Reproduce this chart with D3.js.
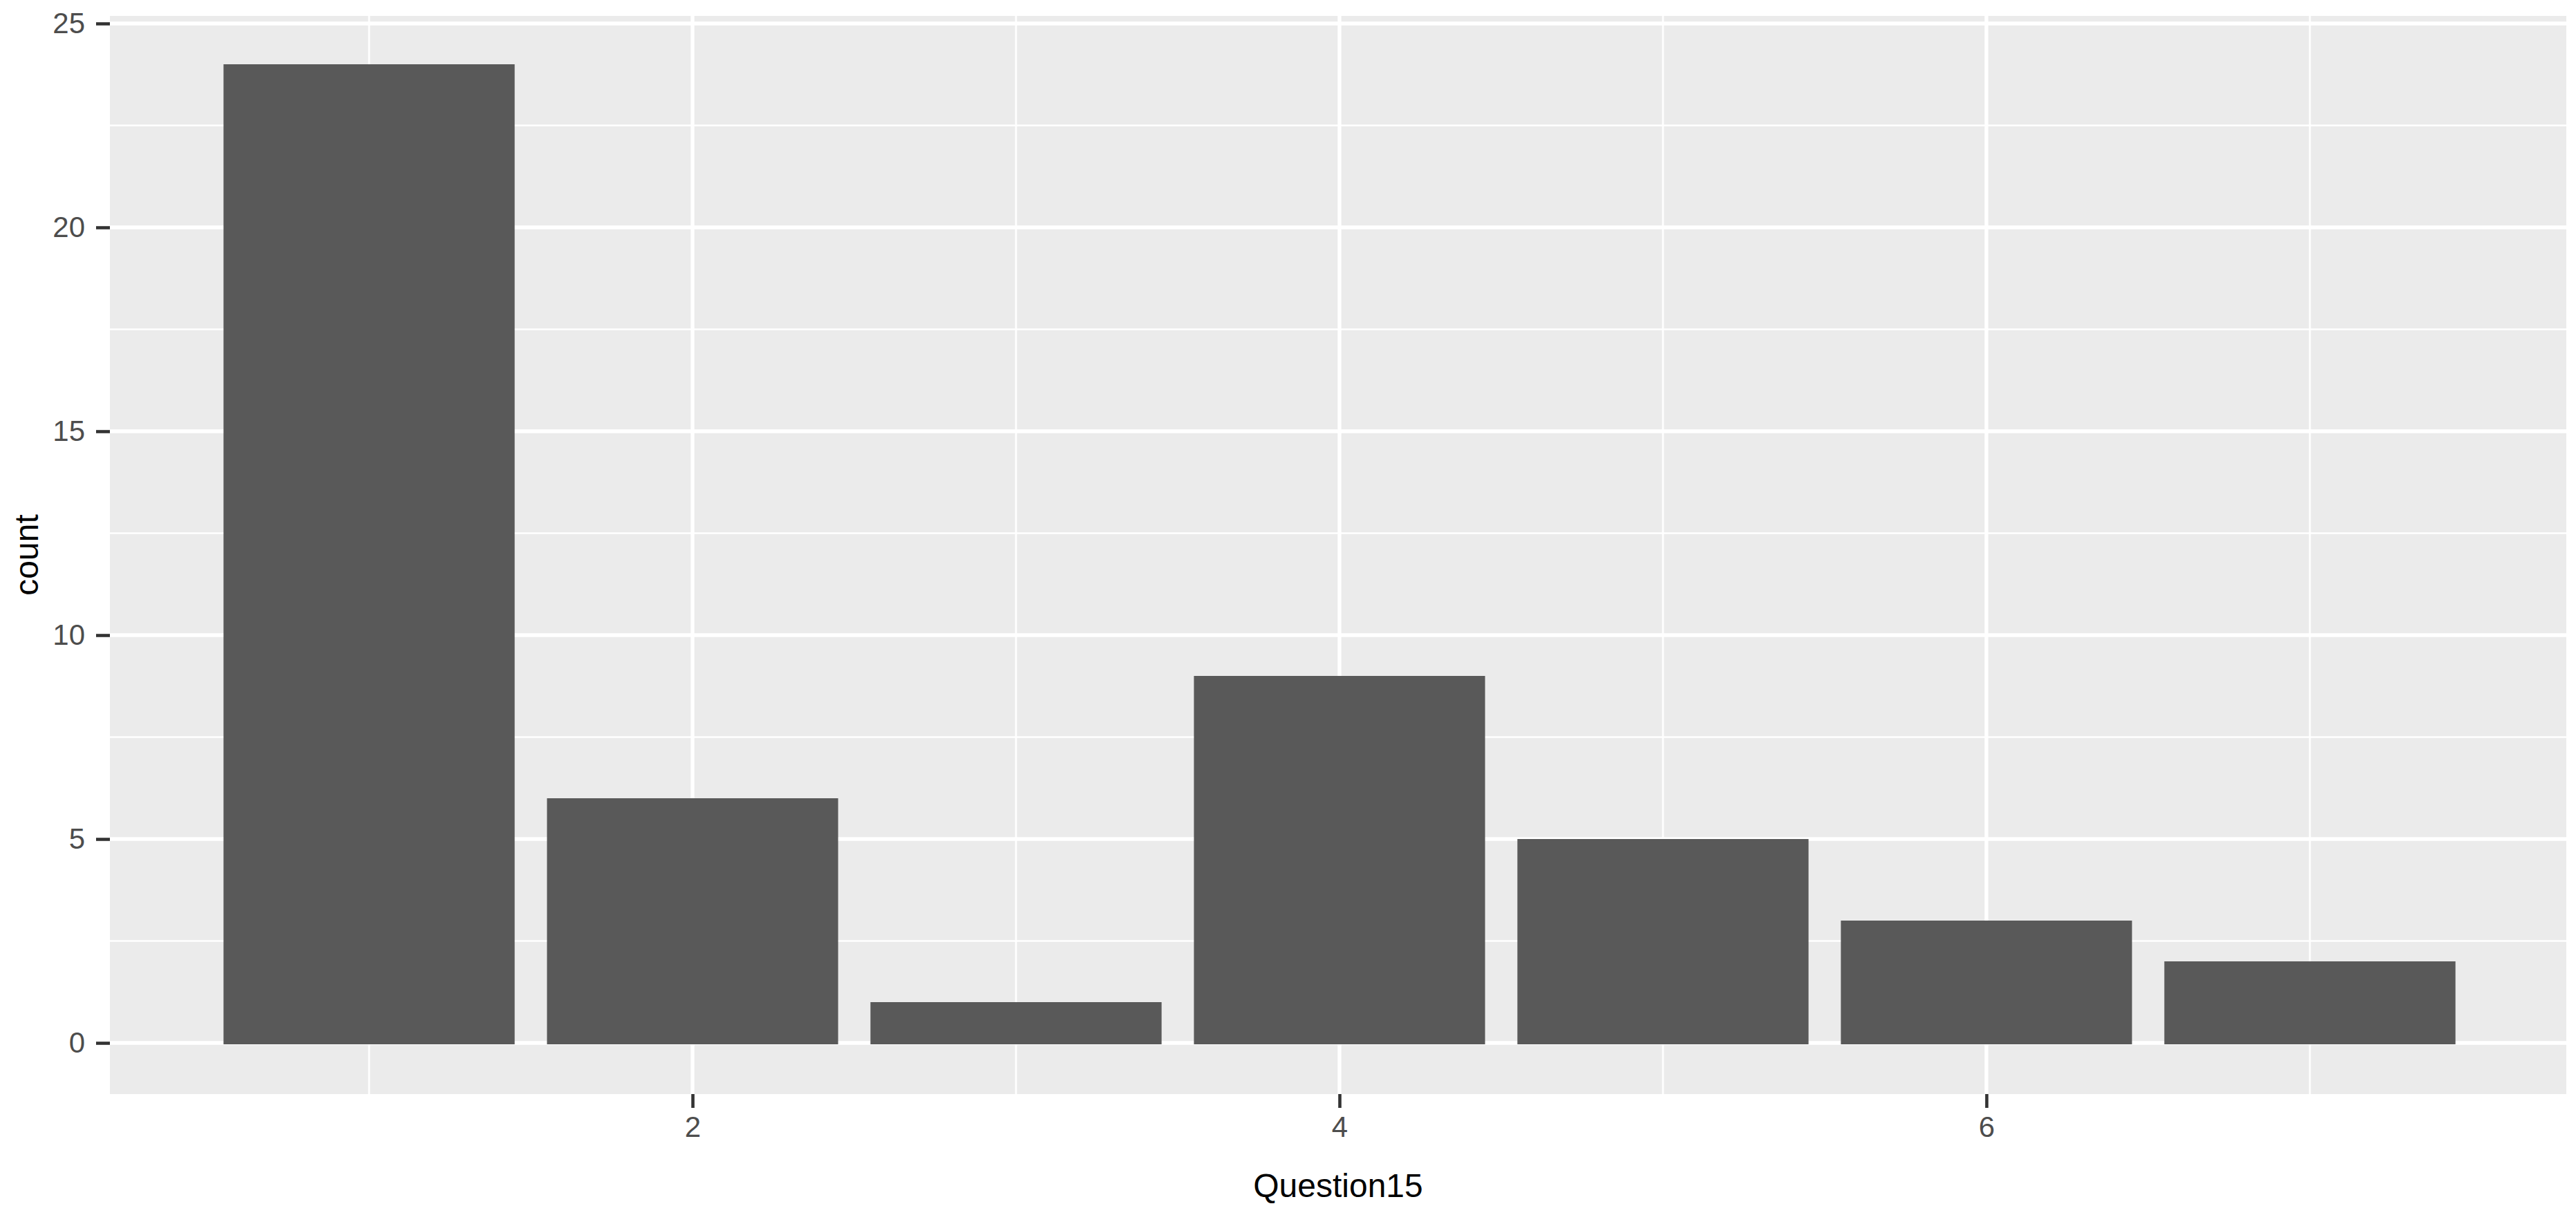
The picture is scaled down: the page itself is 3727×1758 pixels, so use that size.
<!DOCTYPE html>
<html>
<head>
<meta charset="utf-8">
<script src="https://cdn.jsdelivr.net/npm/d3@7"></script>
<style>
  html, body { margin: 0; padding: 0; background: #ffffff; }
  svg { display: block; }
</style>
</head>
<body>
<script>
// ---- data ----
const categories = [1, 2, 3, 4, 5, 6, 7];
const counts = [24, 6, 1, 9, 5, 3, 2];
const xMajorTicks = [2, 4, 6];
const xMinorTicks = [1, 3, 5, 7];
const yMajorTicks = [0, 5, 10, 15, 20, 25];
const yMinorTicks = [2.5, 7.5, 12.5, 17.5, 22.5];
const xTitle = "Question15";
const yTitle = "count";

const W = 3727, H = 1758;
const panel = { left: 159, right: 3713, top: 23, bottom: 1583 };

const svg = d3.select("body").append("svg")
  .attr("width", W).attr("height", H);

const x = d3.scaleLinear().domain([1, 7]).range([534, 3342]);
const y = d3.scaleLinear().domain([0, 25]).range([1509, 34]);
const barW = x(1.9) - x(1);

// panel background
svg.append("rect")
  .attr("x", panel.left).attr("y", panel.top)
  .attr("width", panel.right - panel.left)
  .attr("height", panel.bottom - panel.top)
  .attr("fill", "#EBEBEB");

const grid = svg.append("g");
// minor grid
grid.selectAll("line.ymin").data(yMinorTicks).enter().append("line")
  .attr("x1", panel.left).attr("x2", panel.right)
  .attr("y1", d => y(d)).attr("y2", d => y(d))
  .attr("stroke", "#ffffff").attr("stroke-width", 2.7);
grid.selectAll("line.xmin").data(xMinorTicks).enter().append("line")
  .attr("y1", panel.top).attr("y2", panel.bottom)
  .attr("x1", d => x(d)).attr("x2", d => x(d))
  .attr("stroke", "#ffffff").attr("stroke-width", 2.7);
// major grid
grid.selectAll("line.ymaj").data(yMajorTicks).enter().append("line")
  .attr("x1", panel.left).attr("x2", panel.right)
  .attr("y1", d => y(d)).attr("y2", d => y(d))
  .attr("stroke", "#ffffff").attr("stroke-width", 5.3);
grid.selectAll("line.xmaj").data(xMajorTicks).enter().append("line")
  .attr("y1", panel.top).attr("y2", panel.bottom)
  .attr("x1", d => x(d)).attr("x2", d => x(d))
  .attr("stroke", "#ffffff").attr("stroke-width", 5.3);

// bars
svg.append("g").selectAll("rect").data(categories).enter().append("rect")
  .attr("x", (d) => x(d) - barW / 2)
  .attr("width", barW)
  .attr("y", (d, i) => y(counts[i]))
  .attr("height", (d, i) => y(0) - y(counts[i]) + 2)
  .attr("fill", "#595959");

// axes
const xAxis = d3.axisBottom(x).tickValues(xMajorTicks).tickSize(20).tickPadding(12)
  .tickFormat(d3.format("d"));
const gx = svg.append("g").attr("transform", `translate(0,${panel.bottom})`).call(xAxis);
gx.select(".domain").remove();
gx.selectAll(".tick line").attr("stroke", "#333333").attr("stroke-width", 4.6);
gx.selectAll(".tick text")
  .attr("fill", "#4D4D4D")
  .style("font-family", "'Liberation Sans', Arial, sans-serif")
  .style("font-size", "42px");

const yAxis = d3.axisLeft(y).tickValues(yMajorTicks).tickSize(20).tickPadding(16)
  .tickFormat(d3.format("d"));
const gy = svg.append("g").attr("transform", `translate(${panel.left},0)`).call(yAxis);
gy.select(".domain").remove();
gy.selectAll(".tick line").attr("stroke", "#333333").attr("stroke-width", 4.6);
gy.selectAll(".tick text")
  .attr("fill", "#4D4D4D")
  .style("font-family", "'Liberation Sans', Arial, sans-serif")
  .style("font-size", "42px");

// titles
svg.append("text")
  .attr("x", (panel.left + panel.right) / 2)
  .attr("y", 1732)
  .attr("text-anchor", "middle")
  .attr("fill", "#000000")
  .style("font-family", "'Liberation Sans', Arial, sans-serif")
  .style("font-size", "48px")
  .text(xTitle);

svg.append("text")
  .attr("transform", `translate(55,${(panel.top + panel.bottom) / 2}) rotate(-90)`)
  .attr("text-anchor", "middle")
  .attr("fill", "#000000")
  .style("font-family", "'Liberation Sans', Arial, sans-serif")
  .style("font-size", "48px")
  .text(yTitle);
</script>
</body>
</html>
